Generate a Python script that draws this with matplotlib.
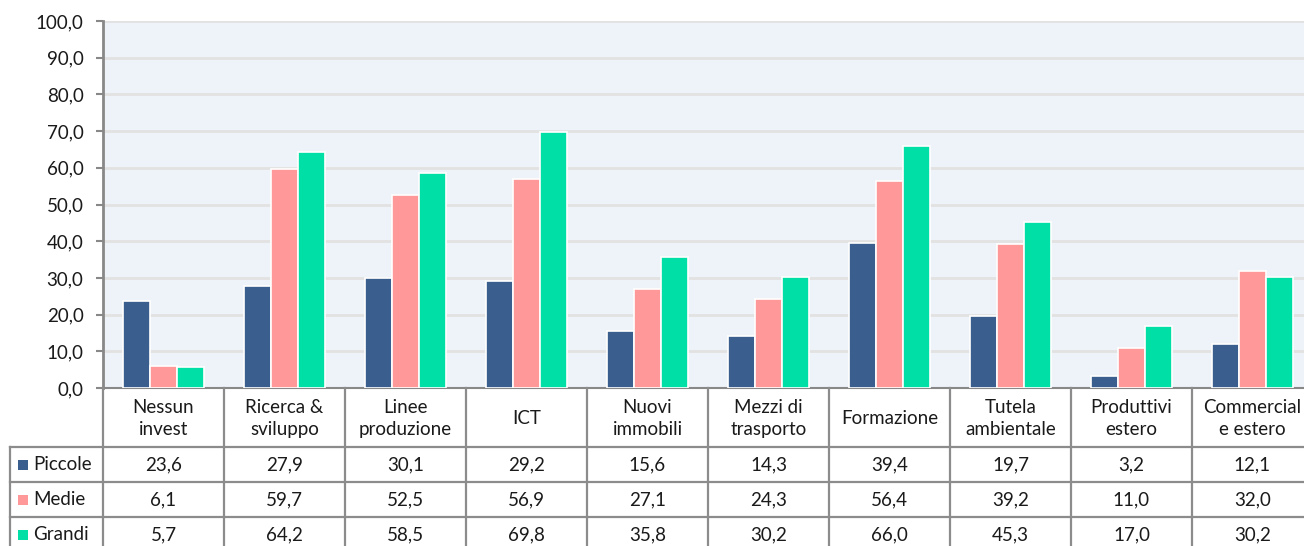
import matplotlib
matplotlib.use("Agg")
import matplotlib.pyplot as plt
from matplotlib.lines import Line2D
from matplotlib.patches import Rectangle
import matplotlib.transforms as mtransforms
import numpy as np

categories = ["Nessun\ninvest", "Ricerca &\nsviluppo", "Linee\nproduzione", "ICT",
              "Nuovi\nimmobili", "Mezzi di\ntrasporto", "Formazione", "Tutela\nambientale",
              "Produttivi\nestero", "Commercial\ne estero"]
series_names = ["Piccole", "Medie", "Grandi"]
piccole = [23.6, 27.9, 30.1, 29.2, 15.6, 14.3, 39.4, 19.7, 3.2, 12.1]
medie = [6.1, 59.7, 52.5, 56.9, 27.1, 24.3, 56.4, 39.2, 11.0, 32.0]
grandi = [5.7, 64.2, 58.5, 69.8, 35.8, 30.2, 66.0, 45.3, 17.0, 30.2]
yticks = [0, 10, 20, 30, 40, 50, 60, 70, 80, 90, 100]

colors = ["#3A5E8D", "#FF9999", "#00E0A6"]
series = [piccole, medie, grandi]

plt.rcParams['font.family'] = ['Lato', 'DejaVu Sans']
FS = 13.5

W, H = 1304, 546
fig = plt.figure(figsize=(W / 100, H / 100), dpi=100)
fig.patch.set_facecolor("white")

x_left, x_right = 103, 1313
y_top, y_bot = 21, 388
ax = fig.add_axes([x_left / W, 1 - y_bot / H, (x_right - x_left) / W, (y_bot - y_top) / H])
ax.set_facecolor("#EEF2F9")

n = len(categories)
x = np.arange(n)
bw = 0.222
offsets = [-bw, 0, bw]
for vals, c, off in zip(series, colors, offsets):
    ax.bar(x + off, vals, width=bw, color=c, edgecolor="white", linewidth=1.2, zorder=3)

ax.set_xlim(-0.5, n - 0.5)
ax.set_ylim(0, 100)
ax.set_yticks(yticks)
ax.set_yticklabels([f"{v:.1f}".replace(".", ",") for v in yticks], fontsize=FS, color="#1a1a1a")
ax.set_xticks([])
ax.grid(axis="y", color="#E2E2E2", linewidth=2, zorder=0)
ax.set_axisbelow(True)
for s in ["top", "right"]:
    ax.spines[s].set_visible(False)
ax.spines["left"].set_color("#888888")
ax.spines["left"].set_linewidth(2)
ax.spines["bottom"].set_color("#888888")
ax.spines["bottom"].set_linewidth(1.5)
ax.tick_params(axis="y", length=5, width=1.5, color="#888888", pad=9)

# table below the axis
def fy(py):
    return 1 - py / H

trans = mtransforms.blended_transform_factory(ax.transData, fig.transFigure)
line_kw = dict(color="#8C8C8C", linewidth=1.6, clip_on=False)

header_top, header_bot = 388, 447
row_h = 35
row_tops = [header_bot + i * row_h for i in range(4)]

for i in range(n + 1):
    fig.add_artist(Line2D([i - 0.5, i - 0.5], [fy(header_top), fy(row_tops[-1] + 5)],
                          transform=trans, **line_kw))
fig.add_artist(Line2D([10 / W, 10 / W], [fy(header_bot), fy(row_tops[-1] + 5)],
                      transform=fig.transFigure, **line_kw))
for yt in row_tops:
    fig.add_artist(Line2D([10 / W, x_right / W], [fy(yt), fy(yt)],
                          transform=fig.transFigure, **line_kw))

for i, cat in enumerate(categories):
    fig.text(i, fy((header_top + header_bot) / 2 + 1), cat, transform=trans,
             ha="center", va="center", fontsize=FS, linespacing=1.4, color="#1a1a1a")

for r, (name, vals, c) in enumerate(zip(series_names, series, colors)):
    yc = fy(row_tops[r] + row_h / 2)
    fig.add_artist(Rectangle((18 / W, yc - 5 / H), 10 / W, 10 / H, transform=fig.transFigure,
                             facecolor=c, edgecolor="none"))
    fig.text(33 / W, yc, name, ha="left", va="center", fontsize=FS, color="#1a1a1a")
    for i, v in enumerate(vals):
        fig.text(i, yc, f"{v:.1f}".replace(".", ","), transform=trans,
                 ha="center", va="center", fontsize=FS, color="#1a1a1a")

fig.savefig("out.png", dpi=100)
